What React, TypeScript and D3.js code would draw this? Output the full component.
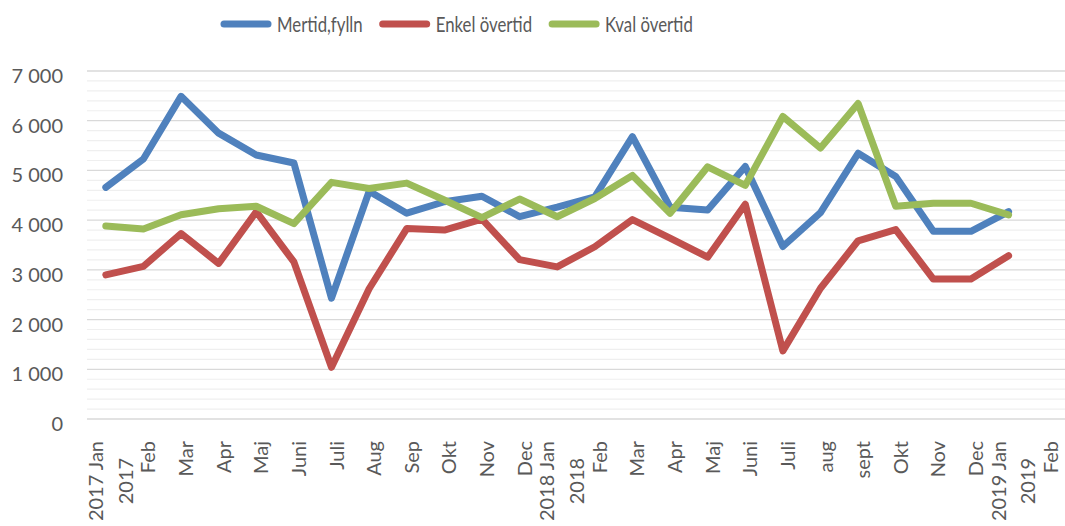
import React, { useEffect, useRef } from "react";
import * as d3 from "d3";

const categories: string[] = [
  "2017 Jan\n2017", "Feb", "Mar", "Apr", "Maj", "Juni", "Juli", "Aug", "Sep", "Okt", "Nov", "Dec",
  "2018 Jan\n2018", "Feb", "Mar", "Apr", "Maj", "Juni", "Juli", "aug", "sept", "Okt", "Nov", "Dec",
  "2019 Jan\n2019", "Feb",
];

const mertidFylln: number[] = [
  4660, 5230, 6490, 5750, 5310, 5150, 2430, 4580, 4140, 4370, 4480, 4070,
  4260, 4470, 5680, 4260, 4205, 5080, 3470, 4150, 5345, 4880, 3775, 3775,
  4170,
];

const enkelOvertid: number[] = [
  2900, 3070, 3730, 3130, 4170, 3160, 1040, 2620, 3830, 3800, 4020, 3205,
  3060, 3465, 4010, 3640, 3255, 4320, 1370, 2630, 3585, 3810, 2815, 2815,
  3285,
];

const kvalOvertid: number[] = [
  3883, 3820, 4110, 4230, 4280, 3930, 4760, 4635, 4745, 4406, 4050, 4425,
  4068, 4435, 4900, 4140, 5073, 4700, 6085, 5450, 6345, 4280, 4340, 4340,
  4105,
];

const seriesNames: string[] = ["Mertid,fylln", "Enkel övertid", "Kval övertid"];
const seriesColors: string[] = ["#4F81BD", "#C0504D", "#9BBB59"];
const yTicks: number[] = [0, 1000, 2000, 3000, 4000, 5000, 6000, 7000];

const W = 1065;
const H = 526;
const FONT = "Lato, 'Open Sans', sans-serif";
const TEXT = "#595959";

export default function App() {
  const ref = useRef<SVGSVGElement | null>(null);

  useEffect(() => {
    const svg = d3.select(ref.current);
    svg.selectAll("*").remove();

    const left = 87, right = 1065, top = 71, bottom = 419;
    const x = d3.scaleBand<number>().domain(categories.map((_, i) => i)).range([left, right]).padding(0);
    const cx = (i: number) => (x(i) as number) + x.bandwidth() / 2;
    const y = d3.scaleLinear().domain([0, 7000]).range([bottom, top]);

    // minor gridlines
    const minor = d3.range(200, 7000, 200).filter((v) => v % 1000 !== 0);
    svg.append("g").selectAll("line").data(minor).join("line")
      .attr("x1", left).attr("x2", right)
      .attr("y1", (d) => y(d)).attr("y2", (d) => y(d))
      .attr("stroke", "#EFEFEF").attr("stroke-width", 1.2);
    // major gridlines
    svg.append("g").selectAll("line").data(yTicks).join("line")
      .attr("x1", left).attr("x2", right)
      .attr("y1", (d) => y(d)).attr("y2", (d) => y(d))
      .attr("stroke", "#D9D9D9").attr("stroke-width", 1.3);

    // y labels
    const fmt = (v: number) => d3.format(",")(v).replace(/,/g, " ");
    svg.append("g").selectAll("text").data(yTicks).join("text")
      .attr("x", 63).attr("y", (d) => y(d) + 4)
      .attr("text-anchor", "end").attr("dominant-baseline", "central")
      .attr("font-family", FONT).attr("font-size", 20).attr("fill", TEXT)
      .text((d) => fmt(d));

    // x labels
    const xg = svg.append("g");
    const lineGap = 29.7;
    categories.forEach((c, i) => {
      const lines = c.split("\n");
      const t = xg.append("text")
        .attr("font-family", FONT).attr("font-size", 20).attr("fill", TEXT);
      const tmp: any[] = lines.map((l) => t.append("tspan").text(l));
      const lens = tmp.map((s) => (s.node() as SVGTSpanElement).getComputedTextLength());
      const maxLen = Math.max(...lens);
      t.remove();
      const center = cx(i) + 4;
      lines.forEach((l, k) => {
        const off = (k - (lines.length - 1) / 2) * lineGap;
        const px = center + off;
        const py = 441 + maxLen / 2;
        xg.append("text")
          .attr("transform", `translate(${px},${py}) rotate(-90)`)
          .attr("text-anchor", "middle").attr("dominant-baseline", "central")
          .attr("font-family", FONT).attr("font-size", 20).attr("fill", TEXT)
          .text(l);
      });
    });

    // lines
    const allSeries = [mertidFylln, enkelOvertid, kvalOvertid];
    const line = d3.line<number>().x((_, i) => cx(i)).y((d) => y(d));
    allSeries.forEach((s, k) => {
      svg.append("path").datum(s)
        .attr("d", line)
        .attr("fill", "none").attr("stroke", seriesColors[k])
        .attr("stroke-width", 7).attr("stroke-linejoin", "round").attr("stroke-linecap", "round");
    });

    // legend
    const lg = svg.append("g");
    let lx = 221;
    const ly = 24;
    const sx = 0.8;
    seriesNames.forEach((name, k) => {
      lg.append("line").attr("x1", lx + 3).attr("x2", lx + 47).attr("y1", ly).attr("y2", ly)
        .attr("stroke", seriesColors[k]).attr("stroke-width", 7).attr("stroke-linecap", "round");
      const g = lg.append("g").attr("transform", `translate(${lx + 56},${ly}) scale(${sx},1)`);
      const t = g.append("text").attr("x", 0).attr("y", 0)
        .attr("dominant-baseline", "central")
        .attr("font-family", FONT).attr("font-size", 21).attr("fill", TEXT).text(name);
      const w = (t.node() as SVGTextElement).getComputedTextLength() * sx;
      lx = lx + 56 + w + 17;
    });
  }, []);

  return (
    <svg ref={ref} width={W} height={H}
      style={{ position: "absolute", left: 0, top: 0, background: "#fff", display: "block" }} />
  );
}
